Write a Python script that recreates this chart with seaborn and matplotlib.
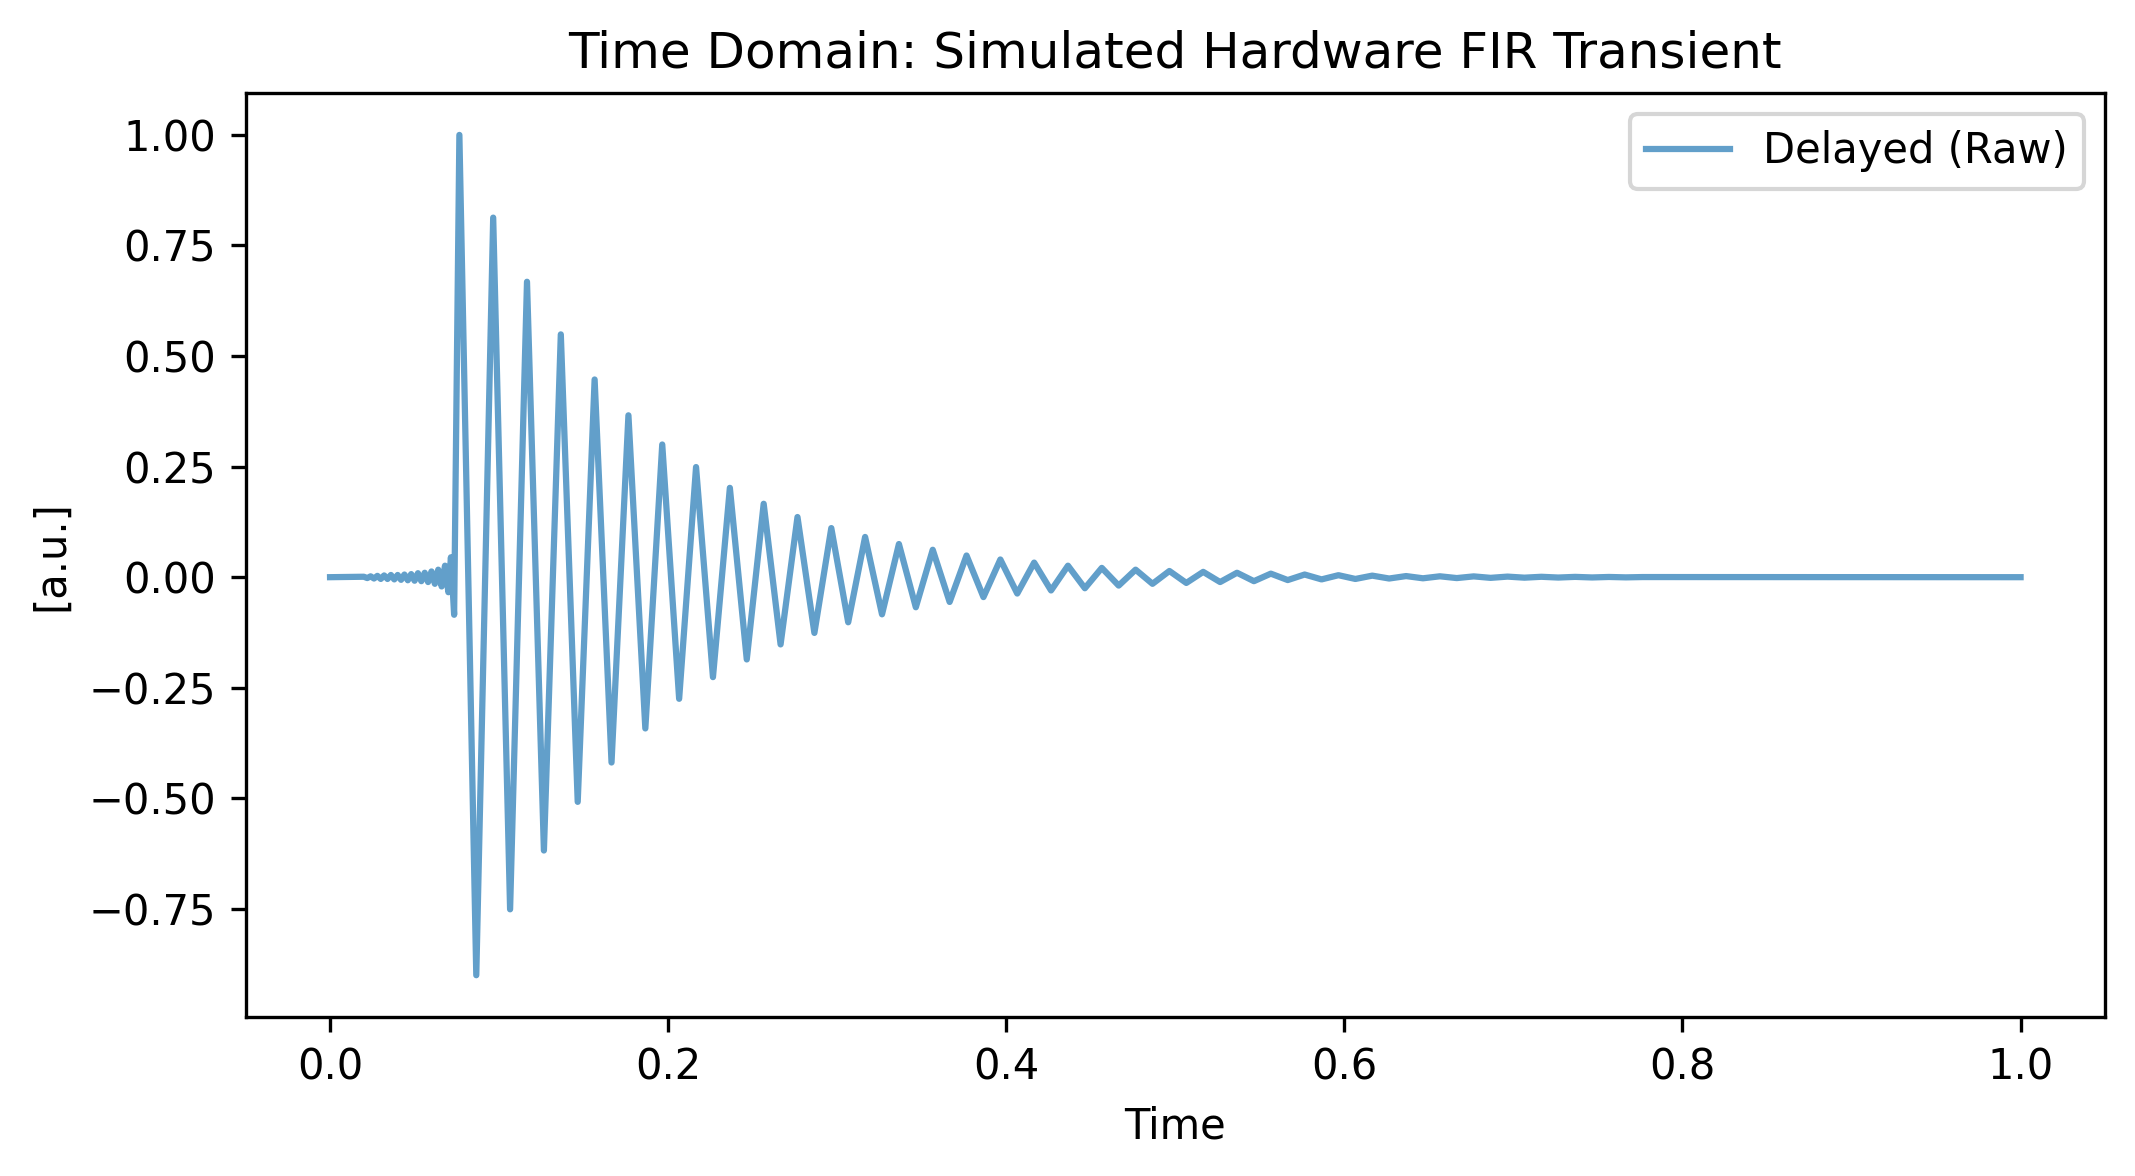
import matplotlib
matplotlib.use("Agg")
import matplotlib.pyplot as plt
import numpy as np
import pandas as pd
import seaborn as sns

# precursor ripple before the main transient
pre_time = [0.000, 0.020, 0.022, 0.024, 0.026, 0.028, 0.030, 0.032, 0.034,
            0.036, 0.038, 0.040, 0.042, 0.044, 0.046, 0.048, 0.050, 0.052,
            0.054, 0.056, 0.058, 0.060, 0.062, 0.064, 0.066, 0.068, 0.070,
            0.0715, 0.0734]
pre_value = [0.0, 0.001, -0.002, 0.002, -0.003, 0.003, -0.004, 0.004, -0.004,
             0.005, -0.005, 0.005, -0.006, 0.006, -0.007, 0.007, -0.008, 0.009,
             -0.009, 0.010, -0.011, 0.013, -0.015, 0.017, -0.021, 0.026, -0.034,
             0.045, -0.085]

# peaks / troughs of the ringing
ring_time = [0.0765, 0.0865, 0.0965, 0.1065, 0.1165, 0.1265, 0.1365, 0.1465,
             0.1565, 0.1665, 0.1765, 0.1865, 0.1965, 0.2065, 0.2165, 0.2265,
             0.2365, 0.2465, 0.2565, 0.2665, 0.2765, 0.2865, 0.2965, 0.3065,
             0.3165, 0.3265, 0.3365, 0.3465, 0.3565, 0.3665, 0.3765, 0.3865,
             0.3965, 0.4065, 0.4165, 0.4265, 0.4365, 0.4465, 0.4565, 0.4665,
             0.4765, 0.4865, 0.4965, 0.5065, 0.5165, 0.5265, 0.5365, 0.5465,
             0.5565, 0.5665, 0.5765, 0.5865, 0.5965, 0.6065, 0.6165, 0.6265,
             0.6365, 0.6465, 0.6565, 0.6665, 0.6765, 0.6865, 0.6965, 0.7065,
             0.7165, 0.7265, 0.7365, 0.7465, 0.7565, 0.7665, 0.7765]
ring_value = [1.000, -0.900, 0.813, -0.751, 0.668, -0.618, 0.549, -0.508,
              0.447, -0.419, 0.366, -0.342, 0.300, -0.275, 0.249, -0.226,
              0.202, -0.186, 0.166, -0.152, 0.136, -0.126, 0.111, -0.102,
              0.091, -0.084, 0.075, -0.068, 0.062, -0.056, 0.049, -0.045,
              0.040, -0.037, 0.033, -0.030, 0.026, -0.025, 0.021, -0.019,
              0.017, -0.015, 0.014, -0.013, 0.012, -0.011, 0.010, -0.009,
              0.008, -0.0065, 0.006, -0.005, 0.0045, -0.004, 0.0035, -0.003,
              0.0025, -0.0025, 0.002, -0.002, 0.0018, -0.0015, 0.0013, -0.0011,
              0.0009, -0.0008, 0.0007, -0.0006, 0.0005, -0.0004, 0.0003]

tail_time = [1.0]
tail_value = [0.0]

df = pd.DataFrame({
    "time": pre_time + ring_time + tail_time,
    "value": pre_value + ring_value + tail_value,
})

fig, ax = plt.subplots(figsize=(2135 / 300, 1176 / 300), dpi=300)
sns.lineplot(data=df, x="time", y="value", ax=ax, estimator=None,
             color="#1f77b4", alpha=0.7, linewidth=1.5, label="Delayed (Raw)")
ax.set_title("Time Domain: Simulated Hardware FIR Transient")
ax.set_xlabel("Time")
ax.set_ylabel("[a.u.]")
ax.legend(loc="upper right")

fig.subplots_adjust(left=0.115, right=0.986, top=0.921, bottom=0.135)
fig.savefig("out.png", dpi=300)
plt.close(fig)
